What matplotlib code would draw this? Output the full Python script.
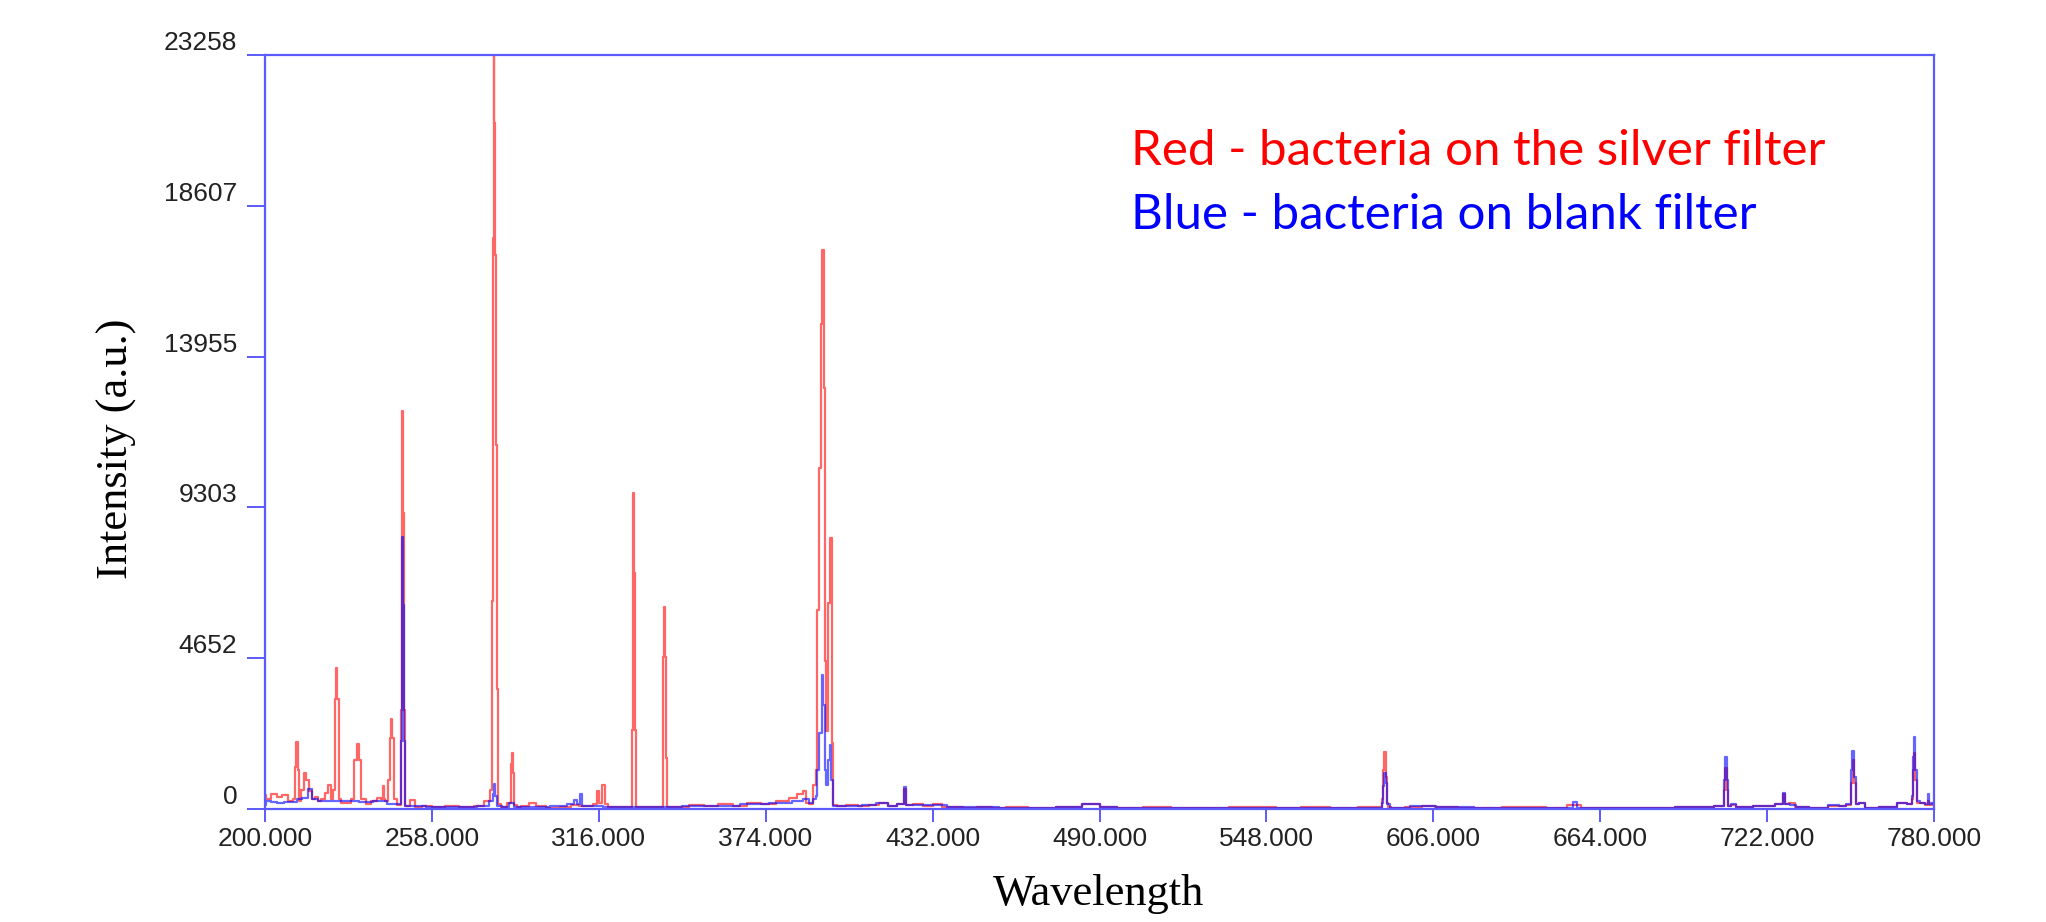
import matplotlib
matplotlib.use("Agg")
import matplotlib.pyplot as plt

# spectrum (wavelength nm, intensity a.u.)
red_wl = [200, 201, 203, 205, 207, 209, 210.3, 210.7, 211.1, 211.5, 212, 213, 214, 214.8, 216, 217, 218, 219,
          220, 221.5, 222.4, 223.2, 224.0, 224.5, 224.9, 225.3, 225.8, 227, 229, 230.5, 231.5, 232.2, 233, 234,
          236, 238, 240, 240.9, 241.2, 241.5, 242.2, 243.2, 243.7, 244.0, 244.5, 245.2, 246.5, 247.0, 247.3,
          247.6, 247.9, 248.2, 248.5, 248.8, 249.5, 251.6, 253, 256, 260, 265, 270, 275, 277.5, 278.7, 279.0,
          279.3, 279.6, 279.9, 280.2, 280.5, 280.8, 281.3, 283, 285.1, 285.6, 285.9, 286.3, 286.8, 288, 290,
          293.4, 295, 300, 305, 308, 310, 313, 315, 315.6, 316.5, 317.7, 318.7, 320, 325, 327.3, 327.6, 327.9,
          328.2, 328.5, 328.8, 329.3, 335, 338.0, 338.3, 338.6, 338.9, 339.2, 339.5, 340, 345, 350, 355, 360,
          365, 370, 375, 380, 384, 386, 387.6, 388.5, 389.5, 391.1, 391.6, 392.2, 392.8, 393.4, 394.0, 394.4,
          394.9, 395.3, 396.0, 396.7, 397.2, 397.7, 400, 404, 408, 412, 415, 418, 421.5, 422.0, 422.4, 422.8,
          423.3, 427, 430, 434.2, 436, 440, 445, 450, 455, 460, 470, 480, 488, 492, 500, 510, 520, 530, 540, 548,
          555, 565, 575, 585, 587.9, 588.2, 588.7, 589.2, 589.7, 590.2, 590.5, 592, 600, 604, 609.5, 620, 640,
          650, 655, 660, 680, 700, 706.8, 707.3, 707.7, 708.1, 708.6, 710.5, 712, 722, 727.3, 728.0, 728.7,
          730.5, 733, 740, 746, 748, 751.0, 751.5, 752.0, 752.5, 753, 755, 757, 765, 769, 772.3, 772.6, 773.0,
          773.3, 773.7, 774.2, 776, 777.8, 778.2, 778.6, 780]
red_int = [420, 300, 450, 380, 430, 260, 300, 1300, 2080, 1200, 250, 600, 1110, 900, 550, 300, 380, 250,
           300, 500, 740, 300, 600, 3400, 4350, 3400, 300, 180, 200, 300, 1500, 1990, 1500, 300,
           150, 250, 350, 300, 700, 300, 250, 900, 2200, 2780, 2200, 300, 120, 120, 3040,
           9135, 12270, 9135, 3040, 100, 100, 280, 60, 80, 60, 80, 60, 100, 250, 600, 6430,
           17620, 23700, 21170, 17080, 11220, 3700, 150, 60, 200, 1400, 1730, 1100, 120, 60, 80,
           190, 80, 40, 60, 120, 80, 100, 150, 570, 200, 730, 150, 60, 50, 60, 2450, 7280,
           9750, 7280, 2450, 60, 60, 60, 1570, 4690, 6230, 4690, 1570, 60, 50, 120, 80, 150,
           100, 200, 150, 250, 330, 450, 560, 200, 150, 725, 1200, 6130, 10520, 14970, 17240, 12990,
           4580, 2420, 6360, 8360, 2040, 110, 80, 120, 90, 130, 180, 100, 150, 150, 620, 120,
           120, 150, 80, 140, 60, 70, 40, 60, 30, 50, 40, 60, 150, 60, 40, 50, 30, 40, 50, 60,
           40, 50, 30, 50, 50, 300, 1200, 1770, 1000, 200, 50, 40, 50, 80, 70, 40, 50,
           40, 110, 30, 40, 60, 100, 600, 1250, 600, 100, 120, 60, 80, 150, 450, 150,
           180, 60, 40, 100, 90, 120, 800, 1500, 800, 150, 180, 40, 60, 180, 150, 300, 1200,
           1720, 900, 200, 200, 120, 250, 120, 150]

blue_wl = [200, 201, 203, 205, 208, 210, 212, 214, 215.8, 217, 220, 225, 230, 235, 240, 245, 247.0, 247.4,
           247.7, 248.0, 248.2, 248.5, 248.9, 252, 260, 270, 277, 278.9, 279.4, 279.8, 280.3, 281, 284, 285.9,
           287, 295, 303, 307, 308.1, 309, 309.8, 310.6, 315, 320, 330, 340, 350, 360, 370, 380, 386, 388, 390,
           391, 391.8, 392.2, 393.1, 393.7, 394.2, 394.9, 395.3, 396.0, 396.4, 397.0, 397.7, 400, 405, 410, 415,
           418, 421.5, 422.0, 422.4, 422.8, 423.3, 427, 434.2, 440, 450, 460, 470, 480, 488, 492, 500, 520, 540,
           560, 580, 587.9, 588.2, 588.7, 589.2, 589.7, 590.2, 592, 604, 610, 630, 654.3, 655, 657, 680, 700,
           706.8, 707.3, 707.7, 708.1, 708.6, 710.5, 712, 722, 727.3, 728.0, 728.7, 731, 733, 740, 746, 748,
           751.0, 751.4, 751.8, 752.1, 752.5, 753, 755, 757, 765, 769, 772.3, 772.6, 773.0, 773.3, 773.7, 774.2,
           776, 777.8, 778.2, 778.6, 779.2, 780]
blue_int = [120, 250, 230, 200, 230, 220, 300, 350, 620, 300, 250, 260, 250, 220, 260, 150, 150, 2100,
            8400, 8400, 6300, 2100, 100, 80, 60, 70, 100, 250, 450, 770, 400, 100, 60, 190,
            60, 60, 80, 150, 280, 150, 470, 100, 80, 60, 60, 70, 80, 100, 150, 200, 250, 300, 200,
            300, 400, 1190, 2345, 4120, 3194, 1190, 725, 1497, 1960, 880, 100, 80, 100, 120, 200,
            100, 150, 150, 690, 120, 120, 130, 120, 60, 50, 40, 40, 60, 150, 50, 40, 30, 40,
            30, 40, 40, 200, 700, 1100, 800, 150, 40, 90, 70, 40, 40, 220, 40, 40, 60,
            100, 900, 1600, 900, 100, 150, 60, 80, 150, 500, 150, 120, 60, 40, 120, 100,
            150, 1200, 1780, 1780, 1000, 150, 170, 40, 60, 200, 150, 400, 1600, 2210, 1200, 250,
            200, 150, 450, 150, 200, 150]

x_ticks = [200, 258, 316, 374, 432, 490, 548, 606, 664, 722, 780]
y_ticks = [0, 4652, 9303, 13955, 18607, 23258]

axis_blue = "#5a5aff"

fig = plt.figure(figsize=(20.46, 9.22), dpi=100)
ax = fig.add_axes([265 / 2046, 1 - 809 / 922, (1934 - 265) / 2046, (809 - 55) / 922])

ax.plot(red_wl, red_int, color="#ff0000", alpha=0.6, lw=1.6, drawstyle="steps-mid")
ax.plot(blue_wl, blue_int, color="#0000ff", alpha=0.6, lw=1.6, drawstyle="steps-mid")

ax.set_xlim(200, 780)
ax.set_ylim(0, 23258)
ax.set_xticks(x_ticks)
ax.set_xticklabels(["%.3f" % v for v in x_ticks])
ax.set_yticks(y_ticks)
ax.set_yticklabels([str(v) for v in y_ticks])

for s in ax.spines.values():
    s.set_color(axis_blue)
    s.set_linewidth(1.6)

ax.tick_params(axis="x", direction="out", length=9, width=1.4, color=axis_blue, pad=4,
               labelsize=19, labelcolor="#222222")
ax.tick_params(axis="y", direction="out", length=13, width=1.4, color=axis_blue, pad=7,
               labelsize=19, labelcolor="#222222")
for lab in ax.get_xticklabels() + ax.get_yticklabels():
    lab.set_family("Liberation Sans")
for lab in ax.get_yticklabels():
    lab.set_verticalalignment("bottom")

fig.text(1099 / 2046, 1 - 905 / 922, "Wavelength", ha="center", va="baseline",
         family="Liberation Serif", fontsize=32)
fig.text(117 / 2046, 1 - 449 / 922, "Intensity (a.u.)", ha="center", va="center", rotation=90,
         family="Liberation Serif", fontsize=32)

fig.text(1131 / 2046, 1 - 165 / 922, "Red - bacteria on the silver filter", ha="left", va="baseline",
         family="Lato", fontsize=35.5, color="#ff0000")
fig.text(1131 / 2046, 1 - 229 / 922, "Blue - bacteria on blank filter", ha="left", va="baseline",
         family="Lato", fontsize=35.5, color="#0000ff")

fig.savefig("out.png", dpi=100)
